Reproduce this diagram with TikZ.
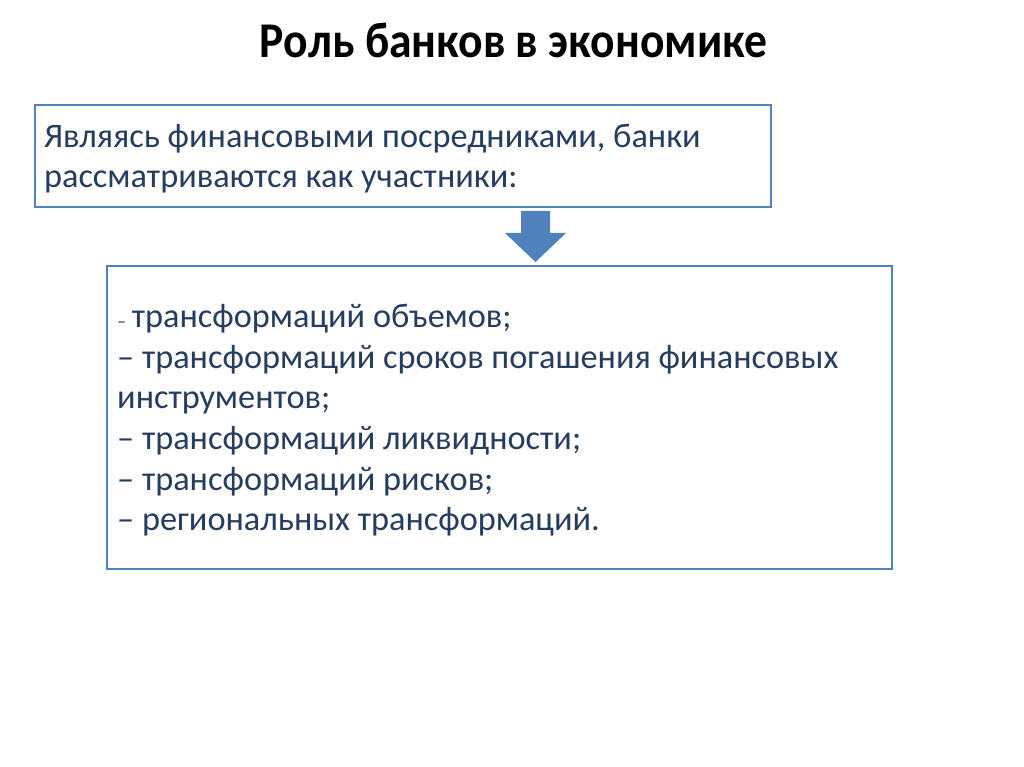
\documentclass[tikz,border=0pt]{standalone}
\usepackage{fontspec}
\usepackage{graphicx}
\setmainfont{Carlito}
\definecolor{txtblue}{HTML}{253D5E}
\definecolor{accent}{HTML}{4F81BD}
\tikzset{
  panel/.style={draw=accent, line width=2.2pt, fill=white},
  line/.style={anchor=base west, inner sep=0pt, text=txtblue, font=\fontsize{34.3}{40}\selectfont},
  heading/.style={anchor=base, inner sep=0pt, text=black, font=\fontsize{50}{60}\selectfont\bfseries},
  blockarrow/.style={fill=accent, draw=none}
}
\begin{document}
\begin{tikzpicture}[x=1pt,y=-1pt]
\useasboundingbox (0,0) rectangle (1024,767);
\fill[white] (0,0) rectangle (1024,767);
\node[heading] (title) at (513.5,58) {\scalebox{0.912}[1]{Роль банков в экономике}};
% box 1
\draw[panel] (35,105) rectangle (771,207);
\coordinate (b1) at (35,105);
\node[line] (t1) at (44,148) {Являясь финансовыми посредниками, банки};
\node[line] (t2) at (44,188) {рассматриваются как участники:};
% arrow
\coordinate (atop) at (535.5,211);
\coordinate (atip) at (535.5,262);
\fill[blockarrow] ([xshift=-14.5pt]atop) -- ([xshift=14.5pt]atop) -- ([xshift=14.5pt,yshift=-22pt]atop)
  -- ([xshift=30.5pt,yshift=-22pt]atop) -- (atip) -- ([xshift=-30.5pt,yshift=-22pt]atop)
  -- ([xshift=-14.5pt,yshift=-22pt]atop) -- cycle;
% box 2
\draw[panel] (107,266) rectangle (892,569);
\node[line] (l1) at (117,327) {{\fontsize{18}{20}\selectfont –}\,трансформаций объемов;};
\node[line] (l2) at (117,368) {– трансформаций сроков погашения финансовых};
\node[line] (l3) at (117,408) {инструментов;};
\node[line] (l4) at (117,449) {– трансформаций ликвидности;};
\node[line] (l5) at (117,490) {– трансформаций рисков;};
\node[line] (l6) at (117,530) {– региональных трансформаций.};
\end{tikzpicture}
\end{document}
